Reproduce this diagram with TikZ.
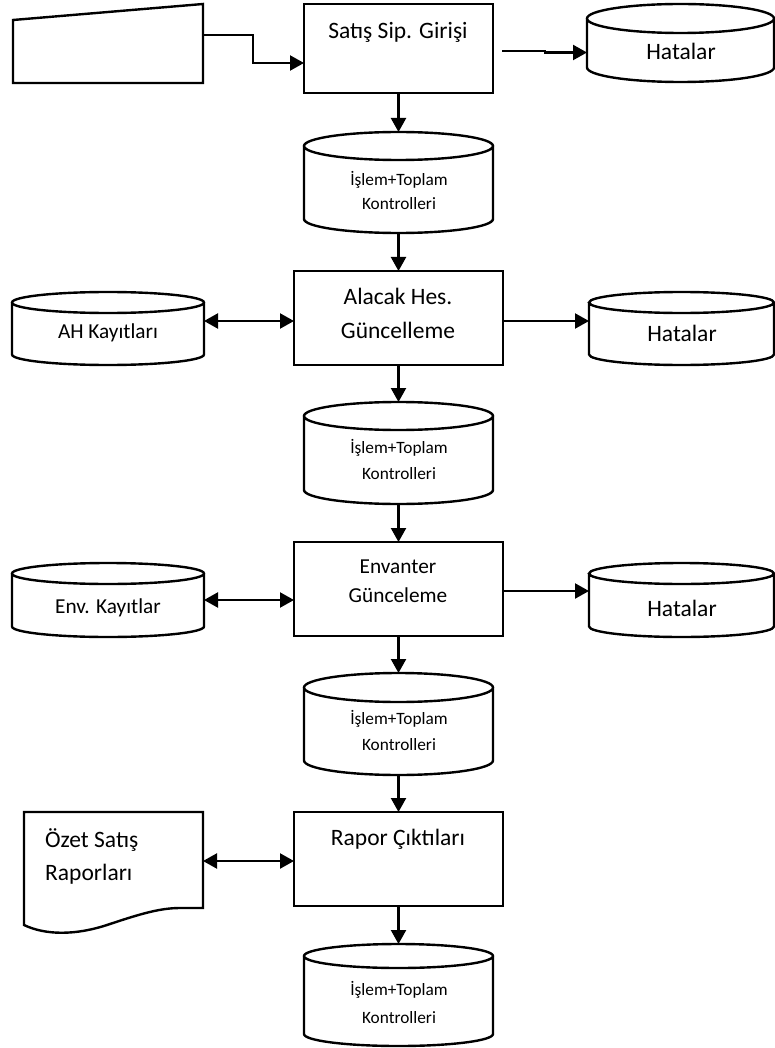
\documentclass[tikz,border=0pt]{standalone}
\usepackage{fontspec}
\setmainfont{Carlito}
\usetikzlibrary{arrows.meta,calc}

% cylinder (data store) drawn over a named rectangular region; #1 node, #2 ellipse y radius
\newcommand\drawcan[2]{%
  \draw[shp] let \p1=(#1.north west), \p2=(#1.south east), \n1={(\x2-\x1)/2} in
    ({\x1+\n1*1pt},{\y1-#2pt}) ellipse [x radius={\n1*1pt}, y radius=#2pt]
    (\x1,{\y1-#2pt}) -- (\x1,{\y2+#2pt})
    arc [start angle=180, end angle=360, x radius={\n1*1pt}, y radius=#2pt]
    -- (\x2,{\y1-#2pt});}

\begin{document}
\begin{tikzpicture}[x=1pt,y=-1pt,
  shp/.style={line width=2.4pt},
  proc/.style={draw, line width=2.4pt, rectangle, inner sep=0pt, outer sep=0pt,
    minimum width=209pt, minimum height=94pt},
  region/.style={rectangle, inner sep=0pt, outer sep=0pt},
  tip/.tip={Triangle[length=14pt,width=15pt]},
  flow/.style={line width=2.2pt, -tip},
  both/.style={line width=2.2pt, tip-tip},
  txtL/.style={font=\fontsize{23.5}{28}\selectfont, inner sep=0pt, anchor=base},
  txtM/.style={font=\fontsize{21.3}{26}\selectfont, inner sep=0pt, anchor=base},
  txtS/.style={font=\fontsize{17.3}{21}\selectfont, inner sep=0pt, anchor=base},
]
\useasboundingbox (0,0) rectangle (774,1048);

% ---- process boxes
\node[proc, minimum width=189pt, minimum height=89pt] (b1) at (398.5,48.5) {};
\node[proc] (b2) at (398.5,318) {};
\node[proc] (b3) at (398.5,589) {};
\node[proc] (b4) at (398.5,859) {};

% ---- regions of the other symbols
\node[region, minimum width=190pt, minimum height=79pt] (mi) at (108,43.5) {};
\node[region, minimum width=187pt, minimum height=78pt] (h1) at (680.5,43) {};
\node[region, minimum width=189pt, minimum height=101pt] (c1) at (398.5,182.5) {};
\node[region, minimum width=192pt, minimum height=73pt] (ah) at (108,328.5) {};
\node[region, minimum width=185pt, minimum height=73pt] (h2) at (681.5,328.5) {};
\node[region, minimum width=189pt, minimum height=102pt] (c2) at (398.5,453) {};
\node[region, minimum width=192pt, minimum height=74pt] (env) at (108,600) {};
\node[region, minimum width=185pt, minimum height=74pt] (h3) at (681.5,600) {};
\node[region, minimum width=189pt, minimum height=102pt] (c3) at (398.5,724) {};
\node[region, minimum width=179pt, minimum height=96pt] (doc) at (113.5,860) {};
\node[region, minimum width=189pt, minimum height=102pt] (c4) at (398.5,995) {};

% ---- manual input
\draw[shp] (mi.south west) -- ([yshift=-16pt]mi.north west) -- (mi.north east)
  -- (mi.south east) -- cycle;

% ---- data stores
\drawcan{h1}{14.5}
\drawcan{c1}{14}
\drawcan{ah}{10.5}
\drawcan{h2}{10.5}
\drawcan{c2}{14}
\drawcan{env}{10.5}
\drawcan{h3}{10.5}
\drawcan{c3}{14.5}
\drawcan{c4}{12}

% ---- document
\draw[shp] ($(doc.south west)+(0,17)$) -- (doc.north west) -- (doc.north east)
  -- (doc.south east) -- ($(doc.south west)+(156,0)$)
  .. controls ($(doc.south west)+(136,0)$) and ($(doc.south west)+(116,6)$)
  .. ($(doc.south west)+(86,16)$)
  .. controls ($(doc.south west)+(51,28)$) and ($(doc.south west)+(21,27)$)
  .. ($(doc.south west)+(0,17)$) -- cycle;

% ---- texts
\node[txtL] (t1) at (398,39) {Satış Sip. Girişi};
\node[txtL] (th1) at (681,60) {Hatalar};
\node[txtS] (tc1a) at (399,185.5) {İşlem+Toplam};
\node[txtS] (tc1b) at (399,209.5) {Kontrolleri};
\node[txtL] (t2a) at (398,304) {Alacak Hes.};
\node[txtL] (t2b) at (398,338) {Güncelleme};
\node[txtM] (tah) at (108,338) {AH Kayıtları};
\node[txtL] (th2) at (682,341) {Hatalar};
\node[txtS] (tc2a) at (399,453) {İşlem+Toplam};
\node[txtS] (tc2b) at (399,479) {Kontrolleri};
\node[txtM] (t3a) at (398,573) {Envanter};
\node[txtM] (t3b) at (398,602) {Günceleme};
\node[txtM] (tenv) at (108,613) {Env. Kayıtlar};
\node[txtL] (th3) at (682,616) {Hatalar};
\node[txtS] (tc3a) at (399,724) {İşlem+Toplam};
\node[txtS] (tc3b) at (399,750) {Kontrolleri};
\node[txtL] (t4) at (398,845) {Rapor Çıktıları};
\node[txtL, anchor=base west] (td1) at (45,847) {Özet Satış};
\node[txtL, anchor=base west] (td2) at (45,880) {Raporları};
\node[txtS] (tc4a) at (399,995) {İşlem+Toplam};
\node[txtS] (tc4b) at (399,1023) {Kontrolleri};

% ---- connectors
\draw[flow] ([yshift=8.5pt]mi.east) -- ++(50,0) |- ([yshift=-14.5pt]b1.west);
\draw[flow] ([xshift=9pt,yshift=-2.5pt]b1.east) -- ++(43,0) -- ++(0,1.5)
  -- ([yshift=-9.5pt]h1.west);
\draw[flow] (b1.south) -- (c1.north);
\draw[flow] (c1.south) -- (b2.north);
\draw[both] ([yshift=7.5pt]ah.east) -- ([yshift=7.5pt]ah.east -| b2.west);
\draw[flow] ([yshift=-3pt]b2.east) -- ([yshift=-3pt]b2.east -| h2.west);
\draw[flow] (b2.south) -- (c2.north);
\draw[flow] (c2.south) -- (b3.north);
\draw[both] (env.east) -- (env.east -| b3.west);
\draw[flow] ([yshift=-2pt]b3.east) -- ([yshift=-2pt]b3.east -| h3.west);
\draw[flow] (b3.south) -- (c3.north);
\draw[flow] (c3.south) -- (b4.north);
\draw[both] ([yshift=-1pt]doc.east) -- ([yshift=-1pt]doc.east -| b4.west);
\draw[flow] (b4.south) -- (c4.north);
\end{tikzpicture}
\end{document}
